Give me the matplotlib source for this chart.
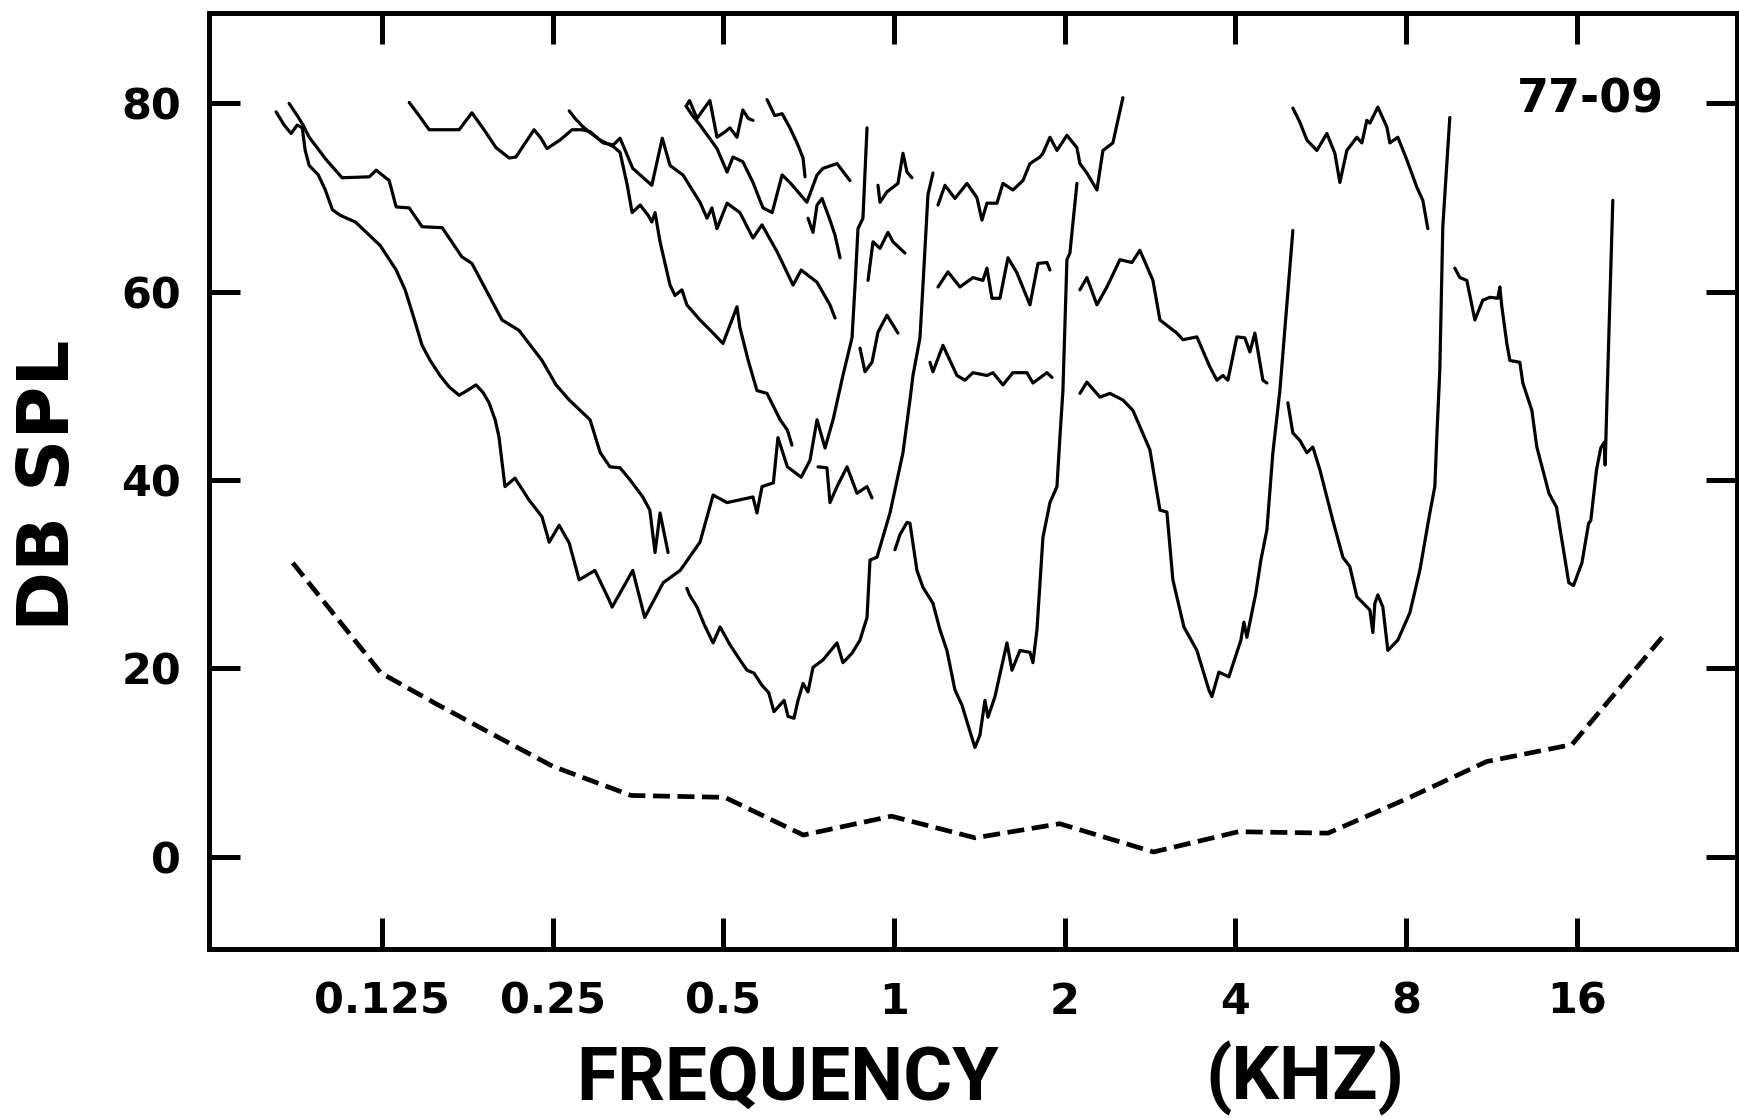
import matplotlib
matplotlib.use('Agg')
import matplotlib.pyplot as plt
from matplotlib.ticker import FixedLocator, FixedFormatter, NullLocator

plt.rcParams['font.family'] = ['DejaVu Sans']

# ---------------- data (frequency in kHz, level in dB SPL) ----------------
xticks = [0.125, 0.25, 0.5, 1, 2, 4, 8, 16]
xtick_labels = ['0.125', '0.25', '0.5', '1', '2', '4', '8', '16']
yticks = [0, 20, 40, 60, 80]
ytick_labels = ['0', '20', '40', '60', '80']

# behavioural threshold (dashed)
thr_khz = [0.087, 0.1245, 0.155, 0.189, 0.25, 0.344, 0.503, 0.692, 0.99, 1.39,
           1.96, 2.87, 4.05, 5.83, 8.06, 11.1, 15.7, 22.8]
thr_db = [31.2, 19.5, 16.3, 13.5, 9.6, 6.5, 6.3, 2.3, 4.3, 2.0,
          3.5, 0.5, 2.65, 2.5, 6.2, 10.1, 11.9, 23.5]

a1_khz = [0.0813, 0.0840, 0.0864, 0.0886, 0.0904, 0.0915, 0.0930, 0.0965, 0.0993, 0.1022,
          0.1056, 0.1122, 0.1173, 0.1241, 0.1324, 0.1373, 0.1418, 0.1471, 0.1520, 0.1582,
          0.1641, 0.1710, 0.1766, 0.1831, 0.1884, 0.1931, 0.1979, 0.2010, 0.2060, 0.2145,
          0.2270, 0.2394, 0.2465, 0.2567, 0.2674, 0.2784, 0.2968, 0.3142, 0.3183, 0.3461,
          0.3633, 0.3917, 0.4197, 0.4548, 0.4797, 0.5077, 0.5640, 0.5732, 0.5851, 0.6127,
          0.6242, 0.6487, 0.686, 0.711, 0.7316, 0.7558, 0.7808, 0.8128, 0.8433, 0.8538,
          0.8640, 0.8816, 0.8963]
a1_db = [79.1, 77.7, 76.8, 77.7, 77.4, 75.0, 73.4, 72.4, 70.8, 68.7,
         68.1, 67.4, 66.3, 64.9, 62.3, 60.2, 57.5, 54.3, 52.7, 51.1,
         49.9, 49.0, 49.5, 50.1, 49.3, 48.2, 46.4, 44.6, 39.3, 40.2,
         37.9, 36.1, 33.4, 35.2, 33.3, 29.4, 30.4, 27.3, 26.5, 30.4,
         25.4, 29.1, 30.4, 33.4, 38.4, 37.6, 38.2, 36.5, 39.3, 39.7,
         44.5, 41.4, 40.3, 42.1, 46.4, 43.4, 46.4, 51.1, 55.1, 60.7,
         66.7, 67.8, 77.4]

a2_khz = [0.0857, 0.0886, 0.0907, 0.0930, 0.0997, 0.1063, 0.1187, 0.1221, 0.1287, 0.1324,
          0.1396, 0.1471, 0.1596, 0.1729, 0.1801, 0.2035, 0.2180, 0.2394, 0.2535, 0.2674,
          0.2795, 0.2910, 0.3033, 0.3155, 0.3287, 0.3425, 0.3605, 0.3710, 0.3789, 0.3867,
          0.3995]
a2_db = [80.0, 78.7, 77.7, 76.4, 74.0, 72.1, 72.2, 72.9, 71.8, 69.0,
         68.9, 66.9, 66.8, 63.7, 63.0, 57.0, 55.9, 52.7, 50.1, 48.5,
         47.4, 46.4, 42.9, 41.4, 41.3, 40.0, 38.2, 36.8, 32.3, 36.5,
         32.3]

g1_khz = [0.1396, 0.1453, 0.1514, 0.1710, 0.1801, 0.1892, 0.1986, 0.2095, 0.2153, 0.2318,
          0.2384, 0.2443, 0.2575, 0.2705, 0.2818, 0.2910, 0.3068, 0.3200, 0.3287, 0.3461,
          0.3740, 0.3902, 0.4027, 0.4243, 0.4548, 0.4680, 0.4773, 0.4873, 0.5077, 0.5348,
          0.5640, 0.5851, 0.6226, 0.6553, 0.6637, 0.686, 0.7316, 0.7711, 0.7871]
g1_db = [80.1, 78.7, 77.2, 77.2, 79.0, 77.2, 75.3, 74.2, 74.3, 77.2,
         76.3, 75.2, 76.1, 77.2, 77.2, 77.0, 75.8, 75.6, 76.3, 73.1,
         71.3, 76.3, 73.4, 72.4, 69.5, 67.8, 68.9, 66.7, 69.4, 68.4,
         65.7, 67.1, 64.2, 61.4, 60.7, 62.3, 61.0, 58.6, 57.2]

g2_khz = [0.2674, 0.2738, 0.2818, 0.2910, 0.3033, 0.3200, 0.3287, 0.3385, 0.3452, 0.3567,
          0.3685, 0.3740, 0.3789, 0.3867, 0.4027, 0.4110, 0.4226, 0.4312, 0.4548, 0.4797,
          0.4993, 0.5285, 0.5348, 0.5532, 0.5732, 0.5971, 0.6298, 0.6487, 0.6608]
g2_db = [79.2, 78.4, 77.6, 76.9, 76.1, 75.4, 74.8, 71.3, 68.4, 69.2,
         68.1, 67.4, 68.4, 65.3, 60.7, 59.6, 60.2, 58.6, 57.0, 55.6,
         54.5, 58.4, 56.2, 52.7, 49.5, 49.2, 46.4, 45.3, 43.7]

q1_khz = [0.4299, 0.4358, 0.4494, 0.4604, 0.4735, 0.4873, 0.5014, 0.5137, 0.5285, 0.5413, 0.5532, 0.5640]
q1_db = [79.7, 80.3, 78.4, 79.3, 80.3, 76.4, 76.9, 77.4, 76.4, 79.3, 78.4, 78.2]

q2_khz = [0.4299, 0.4412, 0.4548, 0.4873, 0.5077, 0.5200, 0.5413, 0.5640, 0.5874, 0.6097,
          0.6349, 0.6553, 0.7021, 0.7316, 0.7497, 0.7935, 0.8363]
q2_db = [79.7, 78.7, 77.7, 75.2, 72.7, 74.3, 73.8, 71.6, 68.9, 68.4,
         72.4, 71.6, 69.5, 72.4, 73.1, 73.6, 71.8]

q3_khz = [0.5971, 0.6162, 0.6349, 0.6553, 0.6745, 0.6912, 0.6968]
q3_db = [80.4, 78.7, 78.9, 77.4, 75.8, 74.2, 72.2]

q4_khz = [0.7052, 0.7197, 0.7316, 0.7467, 0.7711, 0.7871, 0.8033]
q4_db = [67.8, 66.3, 69.2, 69.9, 67.6, 66.0, 63.6]

r0_khz = [0.7347, 0.7617, 0.7711, 0.7935, 0.8264, 0.8605, 0.8963, 0.9146]
r0_db = [41.4, 41.3, 37.6, 39.3, 41.4, 38.6, 39.3, 38.1]

r1_khz = [0.9371, 0.9448, 0.9720, 1.0164, 1.0372, 1.0542, 1.0758]
r1_db = [71.3, 69.5, 70.6, 71.5, 74.7, 72.7, 72.1]

r2_khz = [0.9000, 0.9183, 0.9448, 0.9760, 0.9959, 1.0456]
r2_db = [61.2, 65.3, 64.6, 66.3, 65.3, 64.1]

r3_khz = [0.8711, 0.8889, 0.9146, 0.9371, 0.9720, 1.0164]
r3_db = [54.0, 51.5, 52.5, 55.7, 57.5, 55.6]

s1_khz = [1.1957, 1.2300, 1.2810, 1.3450, 1.4006, 1.4295, 1.4588, 1.5193, 1.5567, 1.6213,
          1.6885, 1.7372, 1.8093, 1.8313, 1.8841, 1.9385, 2.0187, 2.1024, 2.1282, 2.1895,
          2.2804, 2.3366, 2.4331, 2.5339]
s1_db = [69.2, 71.3, 69.9, 71.5, 70.0, 67.6, 69.4, 69.4, 71.5, 70.8,
         71.8, 73.6, 74.3, 74.7, 76.4, 75.0, 76.6, 75.3, 73.6, 72.6,
         70.8, 75.0, 75.8, 80.6]

s2_khz = [1.1957, 1.2451, 1.3073, 1.3782, 1.4354, 1.4588, 1.4887, 1.5379, 1.5888, 1.6478,
          1.7372, 1.7947, 1.8614, 1.8841]
s2_db = [60.5, 62.1, 60.5, 61.5, 61.2, 62.5, 59.3, 59.3, 63.6, 62.0,
         58.6, 63.0, 63.1, 62.3]

s3_khz = [1.1574, 1.1716, 1.2200, 1.2552, 1.2915, 1.3341, 1.3782, 1.4588, 1.4948, 1.5567,
          1.6213, 1.7161, 1.7584, 1.8614, 1.8995]
s3_db = [52.5, 51.5, 54.3, 52.7, 51.1, 50.6, 51.4, 51.1, 51.4, 50.1,
         51.4, 51.4, 50.3, 51.4, 50.9]

s4_khz = [2.1282, 2.1895, 2.2804, 2.3748, 2.5035, 2.6283, 2.7151, 2.8627, 2.9453, 3.1553,
          3.2332, 3.4224, 3.6082, 3.7123, 3.8039, 3.8818, 4.0261, 4.1589, 4.2444, 4.3314,
          4.4745, 4.5478]
s4_db = [60.2, 61.5, 58.6, 60.5, 63.4, 63.1, 64.4, 61.2, 57.0, 55.6,
         54.9, 55.2, 52.0, 50.6, 51.1, 50.6, 55.2, 55.1, 53.6, 55.6,
         50.6, 50.3]

b_khz = [0.4312, 0.4358, 0.4494, 0.4631, 0.4797, 0.4934, 0.5137, 0.5348, 0.5505, 0.5662,
         0.5851, 0.6014, 0.6141, 0.6400, 0.6503, 0.6662, 0.6773, 0.6912, 0.7052, 0.7197,
         0.7497, 0.7935, 0.8128, 0.8433, 0.8711, 0.8963, 0.9072, 0.9333, 0.9839, 1.0372,
         1.0671, 1.0802, 1.1114, 1.1250, 1.1480, 1.1716]
b_db = [28.5, 27.8, 26.5, 24.6, 22.7, 24.4, 22.5, 20.9, 19.8, 19.5,
        18.2, 17.4, 15.4, 16.6, 14.9, 14.7, 16.6, 18.4, 17.5, 20.1,
        20.9, 22.7, 20.6, 21.6, 23.0, 25.4, 31.5, 31.8, 36.5, 42.9,
        48.5, 51.1, 55.1, 60.7, 70.3, 72.6]

c_khz = [1.0041, 1.0247, 1.0542, 1.0671, 1.0978, 1.1250, 1.1716, 1.2053, 1.2400, 1.2810,
         1.3180, 1.3505, 1.3893, 1.4178, 1.4470, 1.4648, 1.5070, 1.5823, 1.6148, 1.6682,
         1.7372, 1.7584, 1.7874, 1.8313, 1.8841, 1.9385, 1.9623, 1.9862, 2.0187, 2.0433,
         2.1024]
c_db = [32.6, 34.2, 35.5, 35.4, 30.4, 28.6, 26.9, 24.1, 21.9, 17.7,
        16.1, 14.0, 11.6, 12.9, 16.6, 14.8, 17.0, 22.7, 19.8, 21.9,
        21.7, 20.6, 24.1, 33.9, 37.6, 39.3, 44.6, 49.5, 63.4, 64.1,
        71.5]

d_khz = [2.1282, 2.1895, 2.3083, 2.4037, 2.5339, 2.6390, 2.8280, 2.9453, 3.0297, 3.1044,
         3.2464, 3.4224, 3.5936, 3.6376, 3.7425, 3.8974, 4.0921, 4.1423, 4.1930, 4.3490,
         4.4382, 4.5478, 4.6597, 4.7942, 5.0540]
d_db = [49.2, 50.4, 48.8, 49.2, 48.5, 47.4, 43.2, 36.8, 36.6, 29.4,
        24.4, 21.9, 17.7, 17.0, 19.6, 19.1, 23.0, 24.9, 23.3, 28.0,
        31.5, 34.7, 42.9, 49.5, 66.5]

e_khz = [4.9524, 5.0540, 5.2000, 5.3500, 5.4818, 5.6398, 5.9455, 6.1919, 6.3700, 6.5540,
         6.9100, 6.9940, 7.0510, 7.1370, 7.2840, 7.4330, 7.7410, 8.1280, 8.4640, 8.8150,
         8.9960, 9.0690, 9.1800, 9.2920, 9.5600]
e_db = [48.2, 45.0, 44.2, 42.9, 43.5, 41.1, 35.7, 31.8, 30.8, 27.6,
        26.2, 23.8, 26.9, 27.8, 26.5, 21.9, 23.0, 25.9, 30.4, 36.5,
        39.3, 44.6, 51.7, 66.9, 78.5]

et_khz = [5.0540, 5.2000, 5.3500, 5.5714, 5.8023, 5.9937, 6.1170, 6.2932, 6.5540, 6.6890,
          6.8260, 6.9100, 7.1370, 7.4030, 7.4940, 7.7410, 8.0290, 8.3620, 8.5680, 8.7440]
et_db = [79.5, 78.0, 76.1, 75.0, 76.8, 74.7, 71.6, 75.0, 76.4, 75.8,
         78.2, 77.9, 79.6, 77.5, 75.8, 76.4, 74.0, 71.1, 69.7, 66.7]

f_khz = [9.757, 9.957, 10.245, 10.584, 10.933, 11.249, 11.620, 11.714, 11.810, 12.052,
         12.200, 12.706, 12.861, 13.340, 13.614, 14.30, 14.75, 15.50, 15.80, 16.35,
         16.80, 16.95, 17.35, 17.65, 17.90, 17.97, 18.10, 18.535]
f_db = [62.5, 61.5, 61.2, 57.0, 59.1, 59.4, 59.3, 60.5, 58.4, 54.5,
        52.7, 52.5, 50.3, 47.4, 43.5, 38.6, 37.1, 29.1, 28.8, 31.2,
        35.4, 35.7, 41.1, 43.4, 44.0, 41.6, 48.5, 69.7]

curves = [(a1_khz, a1_db), (a2_khz, a2_db), (g1_khz, g1_db), (g2_khz, g2_db),
          (q1_khz, q1_db), (q2_khz, q2_db), (q3_khz, q3_db), (q4_khz, q4_db),
          (r0_khz, r0_db), (r1_khz, r1_db), (r2_khz, r2_db), (r3_khz, r3_db),
          (s1_khz, s1_db), (s2_khz, s2_db), (s3_khz, s3_db), (s4_khz, s4_db),
          (b_khz, b_db), (c_khz, c_db), (d_khz, d_db), (e_khz, e_db),
          (et_khz, et_db), (f_khz, f_db)]

# ---------------- figure ----------------
fig = plt.figure(figsize=(17.4, 11.18), dpi=100)
ax = fig.add_axes([0.1201, 0.1512, 0.8782, 0.8372])
ax.set_xscale('log')
ax.set_xlim(0.0619, 30.7)
ax.set_ylim(-9.8, 89.6)

for fx, fy in curves:
    ax.plot(fx, fy, color='black', lw=2.3, solid_joinstyle='round',
            solid_capstyle='round')
ax.plot(thr_khz, thr_db, color='black', lw=3.4, linestyle=(0, (3.6, 1.6)),
        dash_capstyle='butt')

ax.xaxis.set_major_locator(FixedLocator(xticks))
ax.xaxis.set_major_formatter(FixedFormatter(xtick_labels))
ax.xaxis.set_minor_locator(NullLocator())
ax.yaxis.set_major_locator(FixedLocator(yticks))
ax.yaxis.set_major_formatter(FixedFormatter(ytick_labels))
ax.yaxis.set_minor_locator(NullLocator())
ax.tick_params(axis='both', which='major', direction='in', length=22, width=3.6,
               top=True, right=True, labelsize=31, color='black')
ax.tick_params(axis='x', pad=23)
ax.tick_params(axis='y', pad=20)
for lab in ax.get_xticklabels() + ax.get_yticklabels():
    lab.set_fontweight('bold')
for s in ax.spines.values():
    s.set_linewidth(3.6)

ax.text(0.904, 0.907, '77-09', transform=ax.transAxes, ha='center', va='center',
        fontsize=33, fontweight='bold')

fig.text(0.4529, 0.0165, 'FREQUENCY', ha='center', va='baseline', fontsize=54,
         fontweight='bold', family=['Roboto', 'DejaVu Sans'])
fig.text(0.750, 0.0165, '(KHZ)', ha='center', va='baseline', fontsize=54,
         fontweight='bold', family=['Roboto', 'DejaVu Sans'])
fig.text(0.0287, 0.566, 'DB SPL', rotation=90, ha='center', va='center',
         fontsize=52, fontweight='bold')

fig.savefig('out.png', dpi=100, facecolor='white')
